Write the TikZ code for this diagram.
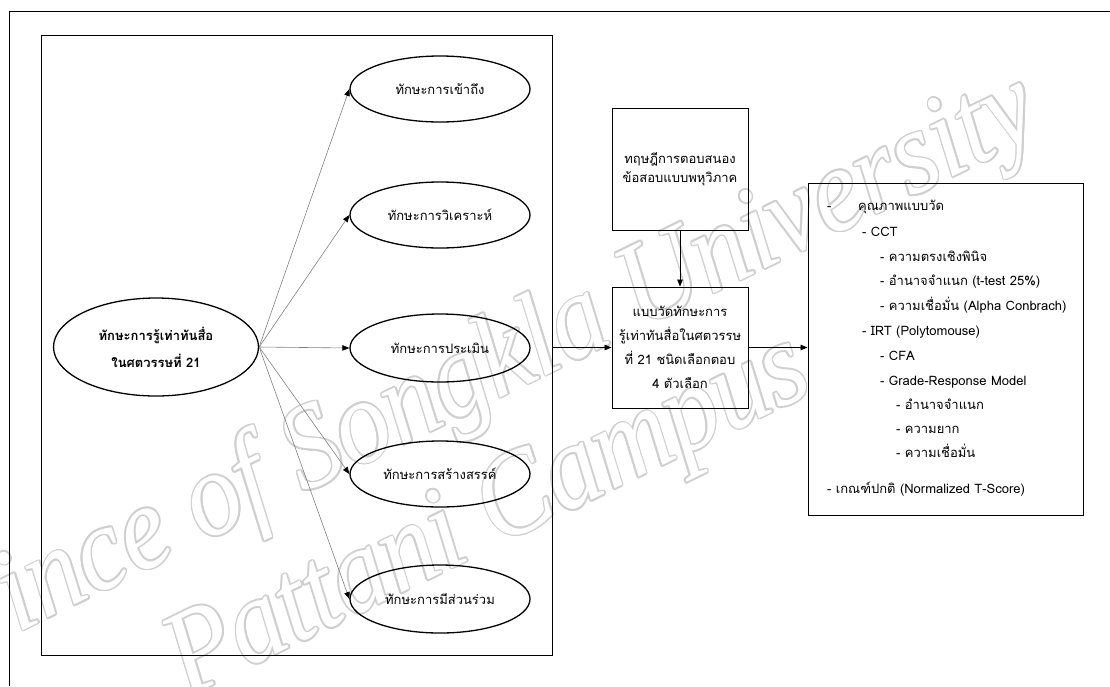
\documentclass[tikz,border=0pt]{standalone}
\usepackage{fontspec}
\setmainfont[Script=Thai]{Loma}
\newfontfamily\wmfont{Liberation Serif}
\usetikzlibrary{arrows.meta,shapes.geometric,calc}
\definecolor{wmgray}{HTML}{CFCFCF}
\definecolor{fanline}{HTML}{808080}
\begin{document}
\begin{tikzpicture}[x=1pt,y=-1pt,
  txt/.style={font=\fontsize{13}{24}\selectfont},
  ell/.style={ellipse,draw,line width=1.3pt,inner sep=0pt,txt},
  boxnode/.style={rectangle,draw,line width=0.9pt,inner sep=0pt,txt,align=center},
  fan/.style={draw=fanline,line width=0.6pt,-{Triangle[length=7pt,width=5.5pt,color=black]}},
  link/.style={draw,line width=0.8pt,-{Triangle[length=7pt,width=5.5pt]}},
  item/.style={anchor=base west,inner sep=0pt,txt},
  wm/.style={font=\wmfont\itshape\fontsize{120}{120}\selectfont,inner sep=0pt,rotate=26,xscale=0.9}
]
\useasboundingbox (0,0) rectangle (1110,686);

% watermark: outlined lettering made of offset grey copies under a white fill
\coordinate (wmA) at (470,380);
\coordinate (wmB) at (490,520);
\foreach \a in {0,30,...,330}{
  \node[wm,text=wmgray] (wmA\a) at ($(wmA)+(\a:1.6)$) {Prince of Songkla University};
  \node[wm,text=wmgray] (wmB\a) at ($(wmB)+(\a:1.6)$) {Pattani Campus};
}
\node[wm,text=white] (wmAt) at (wmA) {Prince of Songkla University};
\node[wm,text=white] (wmBt) at (wmB) {Pattani Campus};

% page frame
\draw[line width=1pt] (1110,11) -- (9,11) -- (9,686);

% left panel with the skill map
\node[draw,line width=1pt,minimum width=511pt,minimum height=620pt,inner sep=0pt] (panel) at (296.5,345) {};

\node[ell,minimum width=205pt,minimum height=98pt,align=center,font=\fontsize{13}{27}\selectfont\bfseries] (main) at (156,347) {ทักษะการรู้เท่าทันสื่อ\\ในศตวรรษที่ 21};

\node[ell,minimum width=180pt,minimum height=66pt] (e1) at (440,89) {ทักษะการเข้าถึง};
\node[ell,minimum width=180pt,minimum height=66pt] (e2) at (440,215) {ทักษะการวิเคราะห์};
\node[ell,minimum width=180pt,minimum height=68pt] (e3) at (440,348) {ทักษะการประเมิน};
\node[ell,minimum width=180pt,minimum height=66pt] (e4) at (440,474) {ทักษะการสร้างสรรค์};
\node[ell,minimum width=180pt,minimum height=68pt] (e5) at (440,599) {ทักษะการมีส่วนร่วม};

\foreach \e in {e1,e2,e3,e4,e5}
  \draw[fan] (main.east) -- (\e.west);

% theory box and test box
\node[boxnode,minimum width=136pt,minimum height=122pt,font=\fontsize{13}{19}\selectfont] (theory) at (680,169) {ทฤษฎีการตอบสนอง\\ข้อสอบแบบพหุวิภาค};
\node[boxnode,minimum width=136pt,minimum height=121pt] (test) at (680,347.5) {แบบวัดทักษะการ\\รู้เท่าทันสื่อในศตวรรษ\\ที่ 21 ชนิดเลือกตอบ\\4 ตัวเลือก};

% quality box
\node[draw,line width=0.9pt,minimum width=275pt,minimum height=332pt,inner sep=0pt] (quality) at (945.5,349) {};

\draw[link] (theory.south) -- (test.north);
\draw[link] (panel.east |- test.west) -- (test.west);
\draw[link] (test.east) -- (quality.west |- test.east);

% quality criteria list
\node[item] (q0) at (827,210) {-};
\node[item] (q1) at (858,210) {คุณภาพแบบวัด};
\node[item] (q2) at (862,236) {- CCT};
\node[item] (q3) at (880,261) {- ความตรงเชิงพินิจ};
\node[item] (q4) at (880,285) {- อำนาจจำแนก (t-test 25\%)};
\node[item] (q5) at (880,310) {- ความเชื่อมั่น (Alpha Conbrach)};
\node[item] (q6) at (862,335) {- IRT (Polytomouse)};
\node[item] (q7) at (880,360) {- CFA};
\node[item] (q8) at (880,385) {- Grade-Response Model};
\node[item] (q9) at (896,409) {- อำนาจจำแนก};
\node[item] (q10) at (896,433) {- ความยาก};
\node[item] (q11) at (896,457) {- ความเชื่อมั่น};
\node[item] (q12) at (827,493) {- เกณฑ์ปกติ (Normalized T-Score)};
\end{tikzpicture}
\end{document}
